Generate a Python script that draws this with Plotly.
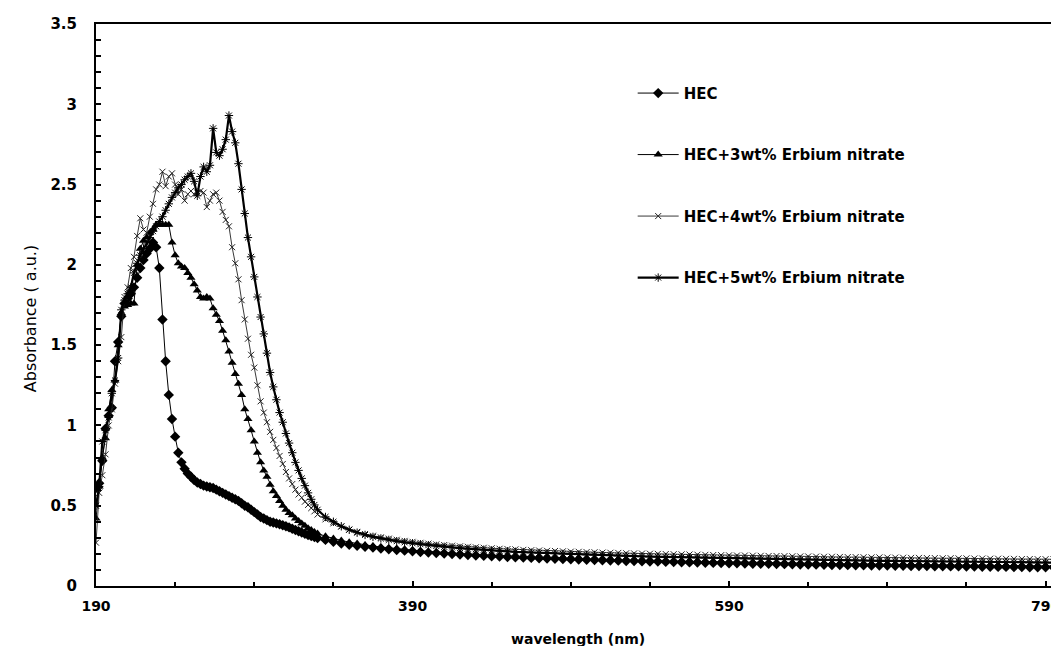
import plotly.graph_objects as go

# wavelength grid (nm)
wl = [190, 192, 194, 196, 198, 200, 202, 204, 206, 208,
      210, 212, 214, 216, 218, 220, 222, 224, 226, 228,
      230, 232, 234, 236, 238, 240, 242, 244, 246, 248,
      250, 252, 254, 256, 258, 260, 262, 264, 266, 268,
      270, 272, 274, 276, 278, 280, 282, 284, 286, 288,
      290, 292, 294, 296, 298, 300, 302, 304, 306, 308,
      310, 312, 314, 316, 318, 320, 322, 324, 326, 328,
      330,
      335, 340, 345, 350, 355, 360, 365, 370, 375, 380,
      385, 390, 395, 400, 405, 410, 415, 420, 425, 430,
      435, 440, 445, 450, 455, 460, 465, 470, 475, 480,
      485, 490, 495, 500, 505, 510, 515, 520, 525, 530,
      535, 540, 545, 550, 555, 560, 565, 570, 575, 580,
      585, 590, 595, 600, 605, 610, 615, 620, 625, 630,
      635, 640, 645, 650, 655, 660, 665, 670, 675, 680,
      685, 690, 695, 700, 705, 710, 715, 720, 725, 730,
      735, 740, 745, 750, 755, 760, 765, 770, 775, 780,
      785, 790, 795, 800]

hec = [0.61, 0.64, 0.78, 0.98, 1.06, 1.11, 1.40, 1.52, 1.68, 1.76,
       1.79, 1.82, 1.86, 1.92, 1.98, 2.03, 2.07, 2.10, 2.14, 2.11,
       1.98, 1.66, 1.40, 1.19, 1.04, 0.93, 0.83, 0.77, 0.73, 0.70,
       0.68, 0.66, 0.645, 0.635, 0.625, 0.62, 0.615, 0.61, 0.60, 0.59,
       0.58, 0.57, 0.56, 0.55, 0.54, 0.53, 0.515, 0.50, 0.49, 0.475,
       0.46, 0.445, 0.43, 0.42, 0.41, 0.40, 0.395, 0.39, 0.385, 0.378,
       0.372, 0.365, 0.357, 0.349, 0.341, 0.333, 0.325, 0.318, 0.311, 0.305,
       0.299,
       0.287, 0.275, 0.265, 0.257, 0.250, 0.244, 0.239, 0.234, 0.229, 0.224,
       0.220, 0.216, 0.212, 0.208, 0.205, 0.202, 0.199, 0.196, 0.193, 0.190,
       0.188, 0.185, 0.183, 0.181, 0.179, 0.177, 0.175, 0.173, 0.171, 0.169,
       0.168, 0.166, 0.165, 0.163, 0.162, 0.160, 0.159, 0.158, 0.156, 0.155,
       0.154, 0.153, 0.152, 0.150, 0.149, 0.148, 0.147, 0.146, 0.145, 0.144,
       0.143, 0.142, 0.141, 0.140, 0.139, 0.138, 0.138, 0.137, 0.136, 0.135,
       0.134, 0.134, 0.133, 0.132, 0.131, 0.131, 0.130, 0.129, 0.129, 0.128,
       0.127, 0.127, 0.126, 0.126, 0.125, 0.124, 0.124, 0.123, 0.123, 0.122,
       0.122, 0.121, 0.121, 0.120, 0.120, 0.119, 0.119, 0.118, 0.118, 0.117,
       0.117, 0.116, 0.116, 0.115]

hec_3wt = [0.42, 0.62, 0.80, 0.92, 1.10, 1.22, 1.28, 1.50, 1.70, 1.74,
           1.75, 1.76, 1.76, 2.00, 2.10, 2.15, 2.17, 2.20, 2.22, 2.25,
           2.25, 2.25, 2.25, 2.25, 2.14, 2.06, 2.01, 1.99, 1.98, 1.95,
           1.92, 1.88, 1.84, 1.80, 1.79, 1.80, 1.79, 1.73, 1.69, 1.65,
           1.59, 1.53, 1.46, 1.39, 1.32, 1.26, 1.19, 1.10, 1.04, 0.97,
           0.90, 0.83, 0.77, 0.72, 0.68, 0.63, 0.59, 0.56, 0.53, 0.50,
           0.475, 0.455, 0.44, 0.42, 0.405, 0.39, 0.375, 0.36, 0.348, 0.337,
           0.327,
           0.310, 0.296, 0.284, 0.273, 0.264, 0.256, 0.249, 0.243, 0.237, 0.232,
           0.227, 0.223, 0.219, 0.215, 0.211, 0.208, 0.205, 0.202, 0.199, 0.196,
           0.194, 0.191, 0.189, 0.187, 0.185, 0.183, 0.181, 0.179, 0.177, 0.176,
           0.174, 0.173, 0.171, 0.170, 0.168, 0.167, 0.166, 0.164, 0.163, 0.162,
           0.161, 0.160, 0.158, 0.157, 0.156, 0.155, 0.154, 0.153, 0.152, 0.151,
           0.150, 0.149, 0.149, 0.148, 0.147, 0.146, 0.145, 0.145, 0.144, 0.143,
           0.142, 0.142, 0.141, 0.140, 0.140, 0.139, 0.138, 0.138, 0.137, 0.137,
           0.136, 0.135, 0.135, 0.134, 0.134, 0.133, 0.133, 0.132, 0.132, 0.131,
           0.131, 0.130, 0.130, 0.129, 0.129, 0.128, 0.128, 0.127, 0.127, 0.126,
           0.126, 0.125, 0.125, 0.124]

hec_4wt = [0.27, 0.58, 0.69, 0.82, 1.00, 1.10, 1.26, 1.40, 1.55, 1.80,
           1.86, 1.98, 2.05, 2.18, 2.29, 2.22, 2.20, 2.30, 2.38, 2.47,
           2.50, 2.58, 2.49, 2.55, 2.57, 2.50, 2.44, 2.47, 2.40, 2.44,
           2.46, 2.44, 2.45, 2.46, 2.45, 2.36, 2.40, 2.44, 2.45, 2.40,
           2.33, 2.28, 2.24, 2.11, 2.01, 1.91, 1.78, 1.66, 1.54, 1.44,
           1.36, 1.25, 1.15, 1.08, 1.02, 0.96, 0.91, 0.86, 0.81, 0.76,
           0.71, 0.67, 0.635, 0.60, 0.57, 0.55, 0.525, 0.505, 0.485, 0.465,
           0.445,
           0.415, 0.390, 0.370, 0.352, 0.337, 0.324, 0.313, 0.303, 0.295, 0.288,
           0.281, 0.275, 0.269, 0.264, 0.259, 0.255, 0.251, 0.247, 0.244, 0.241,
           0.238, 0.235, 0.232, 0.230, 0.228, 0.225, 0.223, 0.221, 0.219, 0.218,
           0.216, 0.214, 0.213, 0.211, 0.210, 0.208, 0.207, 0.206, 0.204, 0.203,
           0.202, 0.201, 0.200, 0.199, 0.198, 0.197, 0.196, 0.195, 0.194, 0.193,
           0.192, 0.191, 0.190, 0.190, 0.189, 0.188, 0.187, 0.187, 0.186, 0.185,
           0.184, 0.184, 0.183, 0.182, 0.182, 0.181, 0.180, 0.180, 0.179, 0.178,
           0.178, 0.177, 0.177, 0.176, 0.175, 0.175, 0.174, 0.174, 0.173, 0.173,
           0.172, 0.172, 0.171, 0.171, 0.170, 0.170, 0.169, 0.169, 0.168, 0.168,
           0.167, 0.167, 0.166, 0.166]

hec_5wt = [0.50, 0.62, 0.90, 0.97, 1.05, 1.20, 1.28, 1.42, 1.72, 1.78,
           1.82, 1.86, 1.95, 2.01, 2.06, 2.10, 2.13, 2.17, 2.21, 2.24,
           2.27, 2.30, 2.34, 2.38, 2.42, 2.45, 2.48, 2.50, 2.53, 2.55,
           2.57, 2.52, 2.43, 2.55, 2.61, 2.58, 2.62, 2.85, 2.70, 2.68,
           2.72, 2.78, 2.93, 2.83, 2.76, 2.63, 2.47, 2.32, 2.17, 2.05,
           1.925, 1.80, 1.675, 1.57, 1.45, 1.33, 1.24, 1.16, 1.08, 1.02,
           0.95, 0.89, 0.83, 0.77, 0.72, 0.67, 0.625, 0.58, 0.54, 0.505,
           0.475,
           0.430, 0.400, 0.372, 0.350, 0.332, 0.318, 0.306, 0.296, 0.287, 0.279,
           0.272, 0.266, 0.260, 0.254, 0.249, 0.244, 0.240, 0.236, 0.232, 0.229,
           0.226, 0.222, 0.219, 0.216, 0.213, 0.211, 0.208, 0.206, 0.204, 0.202,
           0.200, 0.198, 0.196, 0.194, 0.193, 0.191, 0.190, 0.188, 0.187, 0.185,
           0.184, 0.183, 0.182, 0.180, 0.179, 0.178, 0.177, 0.176, 0.175, 0.174,
           0.173, 0.172, 0.171, 0.170, 0.169, 0.168, 0.168, 0.167, 0.166, 0.165,
           0.164, 0.164, 0.163, 0.162, 0.161, 0.161, 0.160, 0.159, 0.159, 0.158,
           0.157, 0.157, 0.156, 0.156, 0.155, 0.154, 0.154, 0.153, 0.153, 0.152,
           0.152, 0.151, 0.151, 0.150, 0.150, 0.149, 0.149, 0.148, 0.148, 0.147,
           0.147, 0.146, 0.146, 0.145]

names = ["HEC", "HEC+3wt% Erbium nitrate", "HEC+4wt% Erbium nitrate", "HEC+5wt% Erbium nitrate"]
x_ticks = [190, 390, 590, 790]
x_tick_text = ["190", "390", "590", "790"]

FONT = "DejaVu Sans"

fig = go.Figure()

fig.add_trace(go.Scatter(
    x=wl, y=hec, name=names[0], mode="lines+markers", legendgroup="g1",
    line=dict(color="black", width=1),
    marker=dict(symbol="diamond", size=8, color="black")))
fig.add_trace(go.Scatter(
    x=wl, y=hec_3wt, name=names[1], mode="lines+markers", legendgroup="g2",
    line=dict(color="black", width=1),
    marker=dict(symbol="triangle-up", size=8, color="black")))
fig.add_trace(go.Scatter(
    x=wl, y=hec_4wt, name=names[2], mode="lines+markers", legendgroup="g3",
    line=dict(color="#222222", width=0.9),
    marker=dict(symbol="x-thin", size=6, color="black",
                line=dict(color="#222222", width=1))))
fig.add_trace(go.Scatter(
    x=wl, y=hec_5wt, name=names[3], mode="lines+markers", legendgroup="g4",
    line=dict(color="black", width=2.2),
    marker=dict(symbol="asterisk", size=7, color="black",
                line=dict(color="black", width=1))))

fig.update_xaxes(
    range=[190, 801], tickmode="array", tickvals=x_ticks, ticktext=x_tick_text,
    ticks="inside", ticklen=5, tickwidth=1.5, tickcolor="black",
    minor=dict(tickmode="linear", tick0=190, dtick=50, ticks="inside",
               ticklen=4, tickwidth=1.5, tickcolor="black", showgrid=False),
    showline=True, linewidth=2, linecolor="black", mirror=True,
    showgrid=False, zeroline=False,
    tickfont=dict(family=FONT, size=14, color="black", weight="bold"),
    ticklabelstandoff=6)

fig.update_yaxes(
    range=[0, 3.5], tick0=0, dtick=0.5,
    ticks="inside", ticklen=5, tickwidth=1.5, tickcolor="black",
    minor=dict(tick0=0, dtick=0.1, ticks="inside", ticklen=5,
               tickwidth=1.5, tickcolor="black", showgrid=False),
    showline=True, linewidth=2, linecolor="black", mirror=True,
    showgrid=False, zeroline=False,
    tickfont=dict(family=FONT, size=15, color="black", weight="bold"),
    ticklabelstandoff=14)

fig.update_layout(
    width=1059, height=646,
    margin=dict(l=88, r=2, t=16, b=68),
    plot_bgcolor="white", paper_bgcolor="white",
    showlegend=True,
    legend=dict(x=0.555, y=0.906, xanchor="left", yanchor="top",
                font=dict(family=FONT, size=15, color="black", weight="bold"),
                tracegroupgap=39, itemwidth=41,
                bgcolor="rgba(0,0,0,0)", borderwidth=0),
    annotations=[
        dict(text="wavelength (nm)", xref="paper", yref="paper",
             x=0.4985, y=(578 - 631) / 562, xanchor="center", yanchor="middle",
             showarrow=False, borderpad=0,
             font=dict(family=FONT, size=14, color="black", weight="bold")),
        dict(text="Absorbance ( a.u.)", xref="paper", yref="paper",
             x=(22 - 88) / 969, y=(578 - 311) / 562, xanchor="center",
             yanchor="middle", textangle=-90, showarrow=False,
             font=dict(family=FONT, size=16, color="black")),
    ],
)

fig.write_html("out.html")
